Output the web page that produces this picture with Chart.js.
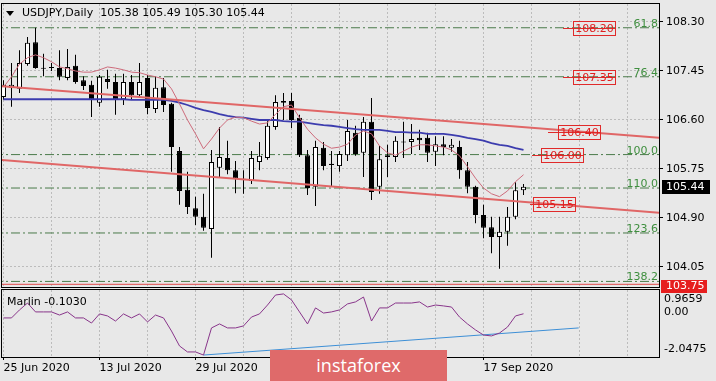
<!DOCTYPE html>
<html><head><meta charset="utf-8">
<script src="https://cdn.jsdelivr.net/npm/chart.js@4.4.1/dist/chart.umd.min.js"></script>
<style>
html,body{margin:0;padding:0;background:#e8e8e8;}
body{width:716px;height:381px;position:relative;overflow:hidden;}
#c1{position:absolute;left:0;top:0;}
#c2{position:absolute;left:0;top:288px;}
.txt{position:absolute;font:11px "DejaVu Sans";color:#000;white-space:pre;line-height:13px;}
#tri{position:absolute;left:6px;top:11px;width:0;height:0;border-left:4.5px solid transparent;border-right:4.5px solid transparent;border-top:5px solid #000;}
#logo{position:absolute;left:270px;top:350px;width:177px;height:31px;background:#df6a6a;color:#fff;font:18px "Open Sans";text-align:center;line-height:30px;}
</style></head><body>
<canvas id="c1" width="716" height="296"></canvas>
<canvas id="c2" width="716" height="93"></canvas>
<div id="tri"></div>
<div class="txt" id="title" style="left:22px;top:6px"></div>
<div class="txt" id="ind" style="left:7px;top:295px"></div>
<div id="logo">instaforex</div>
<script>
// ---------------- DATA ----------------
const symbol = 'USDJPY';
const timeframe = 'Daily';
const open = [107.00,107.16,107.14,107.57,107.95,107.50,107.51,107.50,107.33,107.54,
 107.29,107.21,106.90,107.31,107.26,106.96,107.26,107.03,107.33,106.79,
 107.17,106.88,106.06,105.39,105.07,104.92,104.71,105.77,105.94,105.73,
 105.58,105.54,105.87,105.94,106.48,106.90,106.93,106.64,105.99,105.44,
 106.12,105.84,105.80,105.99,106.38,106.03,106.57,105.44,105.96,105.96,
 106.22,106.22,106.29,106.29,106.05,106.18,106.12,106.13,105.73,105.44,
 104.95,104.74,104.57,104.66,104.92,105.38];
const high = [107.29,107.59,107.81,108.04,108.20,107.75,107.59,107.81,107.83,107.73,
 107.36,107.28,107.38,107.47,107.40,107.40,107.38,107.59,107.38,107.35,
 107.33,106.90,106.13,105.70,105.27,105.32,106.08,106.48,106.24,105.89,
 105.73,106.06,106.22,106.58,107.03,107.07,107.07,106.69,106.08,106.24,
 106.22,106.06,106.06,106.60,106.50,106.65,106.98,106.15,106.17,106.32,
 106.57,106.53,106.43,106.38,106.32,106.32,106.27,106.24,105.87,105.46,
 105.13,104.92,104.92,105.09,105.52,105.49];
const low = [106.95,106.83,107.07,107.54,107.49,107.36,107.45,107.29,107.29,107.23,
 107.12,106.65,106.83,107.14,106.69,106.86,106.95,106.98,106.70,106.72,
 106.74,105.70,105.13,104.97,104.78,104.68,104.21,105.61,105.66,105.33,
 105.32,105.49,105.73,105.91,106.43,106.60,106.46,105.96,105.30,105.11,
 105.73,105.44,105.70,105.89,105.98,105.61,105.21,105.32,105.61,105.87,
 105.94,106.01,106.08,105.87,105.80,105.99,106.05,105.58,105.33,104.81,
 104.55,104.29,104.02,104.42,104.88,105.30];
const close = [107.21,107.21,107.59,107.94,107.50,107.49,107.50,107.35,107.52,107.26,
 107.19,106.95,107.35,107.26,106.95,107.26,107.03,107.26,106.81,107.16,
 106.86,106.13,105.37,105.09,104.92,104.73,105.87,105.96,105.73,105.59,
 105.56,105.94,105.98,106.50,106.91,106.93,106.60,105.99,105.42,106.13,
 105.80,105.82,106.01,106.41,106.01,106.57,105.35,105.92,105.99,106.24,
 106.21,106.27,106.25,106.03,106.18,106.13,106.17,105.73,105.44,104.95,
 104.73,104.57,104.66,104.92,105.38,105.44];
const maFast = [107.17,107.35,107.57,107.68,107.73,107.68,107.61,107.52,107.49,107.45,
 107.43,107.43,107.47,107.52,107.50,107.47,107.43,107.42,107.38,107.35,
 107.31,107.14,106.88,106.60,106.36,106.10,106.27,106.46,106.60,106.65,
 106.64,106.58,106.53,106.55,106.70,106.83,106.86,106.64,106.44,106.29,
 106.18,106.11,106.13,106.18,106.34,106.41,106.36,106.15,106.03,105.99,
 106.06,106.13,106.17,106.17,106.15,106.13,106.08,105.98,105.79,105.59,
 105.42,105.32,105.27,105.37,105.53,105.65];
const maSlow = [106.96,106.96,106.96,106.96,106.96,106.96,106.96,106.96,106.96,106.96,
 106.96,106.96,106.96,106.96,106.96,106.96,106.95,106.95,106.95,106.95,
 106.95,106.93,106.90,106.86,106.81,106.77,106.74,106.70,106.67,106.65,
 106.64,106.62,106.60,106.60,106.60,106.58,106.57,106.57,106.55,106.53,
 106.51,106.50,106.48,106.46,106.44,106.43,106.43,106.43,106.41,106.39,
 106.39,106.38,106.38,106.36,106.36,106.36,106.34,106.32,106.29,106.27,
 106.24,106.20,106.17,106.15,106.11,106.08];
const trendIdx = [-0.44, 82.06];
const trendUpper = [107.19, 106.29];
const trendLower = [105.91, 104.99];
const fibLevels = [61.8, 76.4, 100.0, 110.0, 123.6, 138.2];
const fibPrices = [108.20, 107.35, 106.00, 105.42, 104.64, 103.80];
const levelPrice = 103.75;
const redLabelPrices = [108.20, 107.35, 106.40, 106.00, 105.15];
const priceTicks = [108.30, 107.45, 106.60, 105.75, 104.90, 104.05];
const dateTicks = [0, 12, 24, 60];
const dateLabels = ['25 Jun 2020','13 Jul 2020','29 Jul 2020','17 Sep 2020'];
const marlinName = 'Marlin';
const marlin = [-0.29,-0.29,0.07,0.38,-0.02,-0.02,-0.02,-0.16,-0.02,-0.29,
 -0.29,-0.52,-0.11,-0.20,-0.43,-0.11,-0.29,-0.11,-0.47,-0.16,
 -0.29,-0.88,-1.55,-1.82,-1.82,-1.96,-0.74,-0.56,-0.74,-0.74,
 -0.65,-0.25,-0.11,0.29,0.74,0.79,0.52,-0.02,-0.56,0.16,
 -0.07,-0.02,0.07,0.34,0.43,0.65,-0.43,0.16,0.16,0.38,
 0.38,0.38,0.43,0.20,0.29,0.25,0.20,-0.25,-0.56,-0.83,
 -1.06,-1.10,-0.97,-0.70,-0.20,-0.1030];
const marlinTrendIdx = [25, 71.9];
const marlinTrend = [-1.96, -0.74];
const marlinMax = 0.9659, marlinMin = -2.0475;
const marlinTickLabels = ['0.9659', '0.00', '-2.0475'];

// ---------------- LAYOUT / STYLE ----------------
const IDX_MIN = -0.1875, IDX_MAX = 81.9375;
const PRICE_MIN = 103.703, PRICE_MAX = 108.612;
const marlinTickPos = [0.54, -0.02, -1.688];
const gridIdx = [0,6,12,18,24,30,36,42,48,54,60,66,72,78];
const redLabelPos = [{seg:69.94, box:71.19},{seg:69.94, box:71.19},{seg:68.06, box:69.31},{seg:66.06, box:67.19},{seg:65.81, box:66.19}];
const gridColor = '#bcbcbc';
const FONT = '11px "DejaVu Sans"';

Chart.defaults.font.family = '"DejaVu Sans", sans-serif';
Chart.defaults.font.size = 11;
Chart.defaults.color = '#000';

const n = close.length - 1;
document.getElementById('title').textContent =
  symbol + ',' + timeframe + '  ' + [open[n], high[n], low[n], close[n]].map(v => v.toFixed(2)).join(' ');
document.getElementById('ind').textContent = marlinName + ' ' + marlin[n].toFixed(4);

function noPad(s) { s.paddingTop = 0; s.paddingBottom = 0; s.paddingLeft = 0; s.paddingRight = 0; }

function xScale(show) {
  return {
    type: 'linear', min: IDX_MIN, max: IDX_MAX, offset: false,
    afterBuildTicks: s => { s.ticks = gridIdx.map(v => ({value: v})); },
    grid: {
      color: gridColor, drawTicks: show, tickLength: 3, offset: false,
      tickColor: c => (c.tick && dateTicks.includes(c.tick.value)) ? '#000' : 'rgba(0,0,0,0)'
    },
    border: {display: false, dash: [2, 2]},
    ticks: {
      display: show, autoSkip: false, maxRotation: 0, minRotation: 0, align: 'start', padding: 2,
      callback: v => { const k = dateTicks.indexOf(v); return k >= 0 ? dateLabels[k] : ''; }
    },
    afterFit: s => { s.height = show ? 24 : 9; noPad(s); }
  };
}

function lineDs(xs, ys, color, width, order, dash) {
  return {type: 'line', data: xs.map((x, k) => ({x: x, y: ys[k]})), borderColor: color,
    borderWidth: width, pointRadius: 0, tension: 0, fill: false, order: order,
    borderDash: dash || [], clip: 0};
}

const frame = (ctx, a) => {
  ctx.save();
  ctx.strokeStyle = '#000'; ctx.lineWidth = 1;
  ctx.strokeRect(a.left - 0.5, a.top - 0.5, a.right - a.left + 1, a.bottom - a.top + 1);
  ctx.restore();
};

const overlay1 = {
  id: 'overlay1',
  afterDatasetsDraw(chart) {
    const {ctx, chartArea: a, scales: {x, y}} = chart;
    ctx.save();
    ctx.font = FONT;
    ctx.fillStyle = '#3f8f3f'; ctx.textAlign = 'right'; ctx.textBaseline = 'alphabetic';
    fibLevels.forEach((lv, k) => {
      ctx.fillText(lv.toFixed(1), a.right - 1, Math.round(y.getPixelForValue(fibPrices[k])) - 1);
    });
    redLabelPrices.forEach((p, k) => {
      const txt = p.toFixed(2);
      const yc = Math.round(y.getPixelForValue(p));
      const bx = Math.round(x.getPixelForValue(redLabelPos[k].box));
      const sx = Math.round(x.getPixelForValue(redLabelPos[k].seg));
      const bw = Math.round(ctx.measureText(txt).width) + 4;
      ctx.strokeStyle = '#e02a2a'; ctx.lineWidth = 1;
      ctx.beginPath(); ctx.moveTo(sx, yc + 0.5); ctx.lineTo(bx + bw, yc + 0.5); ctx.stroke();
      ctx.strokeRect(bx + 0.5, yc - 6.5, bw, 14);
      ctx.fillStyle = '#e02020'; ctx.textAlign = 'center'; ctx.textBaseline = 'middle';
      ctx.fillText(txt, bx + bw / 2 + 0.5, yc + 1);
    });
    ctx.restore();
  },
  afterDraw(chart) {
    const {ctx, chartArea: a, scales: {y}} = chart;
    frame(ctx, a);
    ctx.save();
    ctx.font = FONT; ctx.textAlign = 'left'; ctx.textBaseline = 'middle';
    let yc = Math.round(y.getPixelForValue(close[n]));
    ctx.fillStyle = '#000'; ctx.fillRect(a.right + 3, yc - 7, 48, 14);
    ctx.fillStyle = '#fff'; ctx.fillText(close[n].toFixed(2), a.right + 7, yc + 0.5);
    yc = Math.max(Math.round(y.getPixelForValue(levelPrice)), a.bottom - 1);
    ctx.fillStyle = '#e61e1e'; ctx.fillRect(a.right + 2, yc - 6, 46, 13);
    ctx.fillStyle = '#fff'; ctx.fillText(levelPrice.toFixed(2), a.right + 7, yc + 0.5);
    ctx.restore();
  }
};

const bodies = open.map((o, i) => ({x: i, y: [o, close[i]]}));
const wicks = low.map((l, i) => ({x: i, y: [l, high[i]]}));

const ds1 = [
  lineDs(trendIdx, trendUpper, '#e06666', 2, 0),
  lineDs(trendIdx, trendLower, '#e06666', 2, 0),
  lineDs(open.map((_, i) => i), maFast, '#cd6b7b', 1, 1),
  lineDs(open.map((_, i) => i), maSlow, '#3c3cae', 1.8, 1),
  {type: 'bar', data: bodies, order: 5, grouped: false, barThickness: 5, minBarLength: 1,
   backgroundColor: open.map((o, i) => close[i] >= o ? '#ffffff' : '#000000'),
   borderColor: '#000', borderWidth: 1, borderSkipped: false, inflateAmount: 0},
  {type: 'bar', data: wicks, order: 6, grouped: false, barThickness: 1,
   backgroundColor: '#000', borderWidth: 0, borderSkipped: false, inflateAmount: 0},
  lineDs([IDX_MIN - 1, IDX_MAX + 1], [levelPrice, levelPrice], '#e04848', 1, 7)
];
fibPrices.forEach(p => ds1.push(lineDs([IDX_MIN - 1, IDX_MAX + 1], [p, p], '#4a7a4a', 1, 8, [9, 3, 2, 3])));

new Chart(document.getElementById('c1'), {
  type: 'line',
  data: {datasets: ds1},
  options: {
    responsive: false, animation: false, events: [],
    layout: {padding: {left: 2, top: 4, right: 0, bottom: 0}},
    plugins: {legend: {display: false}, tooltip: {enabled: false}},
    scales: {
      x: xScale(false),
      y: {
        type: 'linear', position: 'right', min: PRICE_MIN, max: PRICE_MAX,
        afterBuildTicks: s => { s.ticks = priceTicks.map(v => ({value: v})); },
        ticks: {callback: v => Number(v).toFixed(2), padding: 3, autoSkip: false},
        grid: {color: gridColor, tickLength: 4, tickColor: '#000'},
        border: {display: false, dash: [2, 2]},
        afterFit: s => { s.width = 57; noPad(s); }
      }
    }
  },
  plugins: [overlay1]
});

const overlay2 = {
  id: 'overlay2',
  afterDraw(chart) { frame(chart.ctx, chart.chartArea); }
};

new Chart(document.getElementById('c2'), {
  type: 'line',
  data: {datasets: [
    lineDs(marlin.map((_, i) => i), marlin, '#88358a', 1, 0),
    lineDs(marlinTrendIdx, marlinTrend, '#3d8fd6', 1, 1)
  ]},
  options: {
    responsive: false, animation: false, events: [],
    layout: {padding: {left: 2, top: 2, right: 0, bottom: 0}},
    plugins: {legend: {display: false}, tooltip: {enabled: false}},
    scales: {
      x: xScale(true),
      y: {
        type: 'linear', position: 'right', min: marlinMin, max: marlinMax,
        afterBuildTicks: s => { s.ticks = marlinTickPos.map(v => ({value: v})); },
        ticks: {callback: (v, i) => marlinTickLabels[i], padding: 5, autoSkip: false},
        grid: {drawOnChartArea: false, drawTicks: false},
        border: {display: false},
        afterFit: s => { s.width = 57; noPad(s); }
      }
    }
  },
  plugins: [overlay2]
});
</script>
</body></html>
